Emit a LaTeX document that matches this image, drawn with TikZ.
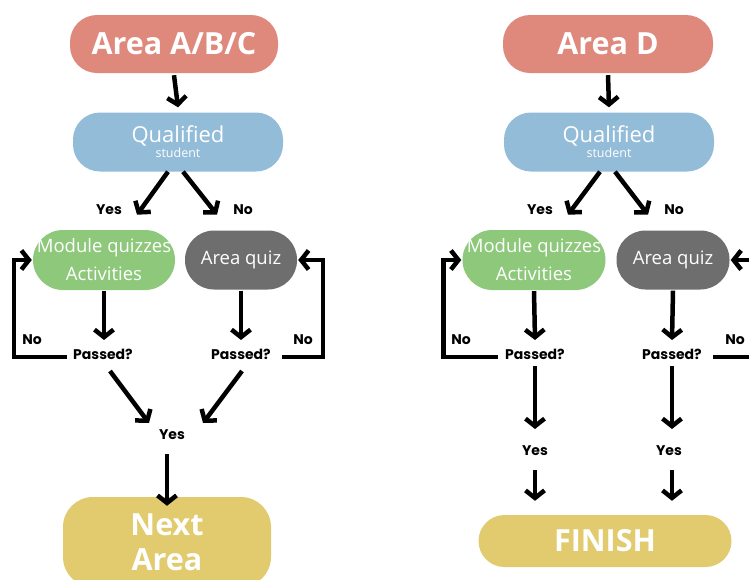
\documentclass[tikz,border=0pt]{standalone}
\usepackage{fontspec}
\setmainfont{Open Sans}
\newfontfamily\labfont{Poppins}
\usetikzlibrary{arrows.meta}
\definecolor{cSalmon}{HTML}{DE897C}
\definecolor{cBlue}{HTML}{93BCD8}
\definecolor{cGreen}{HTML}{8DC87B}
\definecolor{cGrey}{HTML}{6E6E6E}
\definecolor{cYellow}{HTML}{E2CB6E}
\begin{document}
\begin{tikzpicture}[x=1pt,y=-1pt,
  box/.style={rounded corners=27pt, minimum height=59pt, text=white, inner sep=0pt, align=center},
  big/.style={font=\bfseries\fontsize{30.5}{35}\selectfont},
  qual/.style={font=\fontsize{22}{22}\selectfont},
  mid/.style={font=\fontsize{18.5}{28}\selectfont},
  arr/.style={line width=4.5pt, -{Straight Barb[length=7.5pt,width=19pt]}},
  lbl/.style={font=\labfont\bfseries\fontsize{14}{16}\selectfont, inner sep=0pt}]
\useasboundingbox (0,0) rectangle (749,579);
\fill[white] (0,0) rectangle (749,579);

% ---------- left diagram ----------
\node[box, big, fill=cSalmon, minimum width=208pt, minimum height=58pt] (areaA) at (174,44) {Area A/B/C};
\node[box, qual, fill=cBlue, minimum width=210pt] (qualA) at (178,142)
  {\raisebox{-3pt}{Qualified}\\[-4pt]\fontsize{12.5}{13}\selectfont student};
\node[box, mid, fill=cGreen, minimum width=142pt, minimum height=60pt, rounded corners=30pt] (modA) at (104,260)
  {Module quizzes\\ Activities};
\node[box, mid, fill=cGrey, minimum width=112pt, rounded corners=29pt] (quizA) at (241,260)
  {Area quiz};
\node[box, big, fill=cYellow, minimum width=208pt, minimum height=90pt, rounded corners=30pt] (nextA) at (167,542)
  {Next\\Area};

\node[lbl] (yesA1) at (109,210) {Yes};
\node[lbl] (noA1) at (243,210) {No};
\node[lbl] (passA1) at (103,354) {Passed?};
\node[lbl] (passA2) at (241,354) {Passed?};
\node[lbl] (noA2) at (32,340) {No};
\node[lbl] (noA3) at (303,340) {No};
\node[lbl] (yesA2) at (172,435) {Yes};

\draw[arr] ([yshift=-2pt]areaA.south) -- ([yshift=5pt]qualA.north);
\draw[arr] ([shift={(-10,0)}]qualA.south) -- ([shift={(-41,43)}]qualA.south);
\draw[arr] ([shift={(5,0)}]qualA.south) -- ([shift={(39,43)}]qualA.south);
\draw[arr] ([yshift=-1pt]modA.south) -- ([shift={(1,-14)}]passA1.center);
\draw[arr] ([yshift=-1pt]quizA.south) -- ([shift={(0,-14)}]passA2.center);
\draw[arr] ([shift={(-36,3)}]passA1.center) -| ([xshift=-19pt]modA.west) -- ([xshift=-1pt]modA.west);
\draw[arr] ([shift={(41,3)}]passA2.center) -| ([xshift=26pt]quizA.east) -- ([xshift=1pt]quizA.east);
\draw[arr] ([shift={(7,17)}]passA1.center) -- ([shift={(-23,-12)}]yesA2.center);
\draw[arr] ([shift={(1,17)}]passA2.center) -- ([shift={(31,-12)}]yesA2.center);
\draw[arr] ([shift={(-5,19)}]yesA2.center) -- ([yshift=-9pt]nextA.north);

% ---------- right diagram ----------
\node[box, big, fill=cSalmon, minimum width=210pt, minimum height=58pt] (areaD) at (608,44) {Area D};
\node[box, qual, fill=cBlue, minimum width=210pt] (qualD) at (609,142)
  {\raisebox{-3pt}{Qualified}\\[-4pt]\fontsize{12.5}{13}\selectfont student};
\node[box, mid, fill=cGreen, minimum width=143pt, minimum height=60pt, rounded corners=30pt] (modD) at (534,260)
  {Module quizzes\\ Activities};
\node[box, mid, fill=cGrey, minimum width=113pt, rounded corners=29pt] (quizD) at (673,260)
  {Area quiz};
\node[box, big, fill=cYellow, minimum width=253pt, minimum height=52pt, rounded corners=26pt] (finD) at (605,541)
  {FINISH};

\node[lbl] (yesD1) at (540,210) {Yes};
\node[lbl] (noD1) at (674,210) {No};
\node[lbl] (passD1) at (535,354) {Passed?};
\node[lbl] (passD2) at (672,354) {Passed?};
\node[lbl] (noD2) at (461,340) {No};
\node[lbl] (noD3) at (735,340) {No};
\node[lbl] (yesD2) at (535,451) {Yes};
\node[lbl] (yesD3) at (669,451) {Yes};

\draw[arr] ([yshift=-2pt]areaD.south) -- ([yshift=5pt]qualD.north);
\draw[arr] ([shift={(-9,0)}]qualD.south) -- ([shift={(-41,43)}]qualD.south);
\draw[arr] ([shift={(6,0)}]qualD.south) -- ([shift={(39,43)}]qualD.south);
\draw[arr] ([yshift=-1pt]modD.south) -- ([shift={(0,-14)}]passD1.center);
\draw[arr] ([yshift=-1pt]quizD.south) -- ([shift={(0,-14)}]passD2.center);
\draw[arr] ([shift={(-37,3)}]passD1.center) -| ([xshift=-19pt]modD.west) -- ([xshift=-1pt]modD.west);
\draw[arr] ([shift={(41,3)}]passD2.center) -| ([xshift=40pt]quizD.east) -- ([xshift=1pt]quizD.east);
\draw[arr] ([shift={(0,12)}]passD1.center) -- ([shift={(0,-22)}]yesD2.center);
\draw[arr] ([shift={(0,12)}]passD2.center) -- ([shift={(3,-22)}]yesD3.center);
\draw[arr] ([shift={(0,19)}]yesD2.center) -- ([shift={(0,-14)}]yesD2.center |- finD.north);
\draw[arr] ([shift={(3,19)}]yesD3.center) -- ([shift={(3,-14)}]yesD3.center |- finD.north);
\end{tikzpicture}
\end{document}
